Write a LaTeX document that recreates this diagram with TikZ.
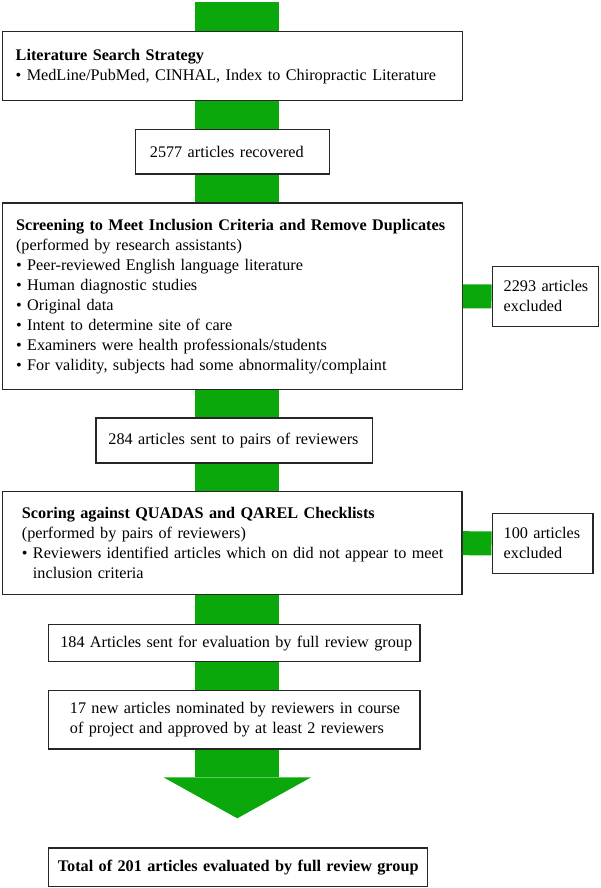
\documentclass[tikz,border=0pt]{standalone}
\usepackage{fontspec}
\setmainfont{Liberation Serif}
\definecolor{flowgreen}{RGB}{10,168,10}
\newcommand{\bul}{\textbullet\ }
\newcommand{\bulgap}{\phantom{\textbullet\ }}

\begin{document}
\begin{tikzpicture}[x=1pt,y=-1pt,
  box/.style={draw=black!85, line width=1.4pt, fill=white, anchor=north west, align=left,
    inner xsep=12pt, inner ysep=0pt, font=\fontsize{16.2}{20}\selectfont},
  sidelink/.style={flowgreen, line width=24pt}]
  \useasboundingbox (0,0) rectangle (600,888);
  \coordinate (top) at (237.3,2);
  \coordinate (neck) at (237.3,777.3);
  \coordinate (tip) at (237.3,818.3);
  \draw [flowgreen, line width=83.8pt] (top) -- (neck);
  \fill [flowgreen] (neck) ++(-73.8,0) -- ++(147.6,0) -- (tip) -- cycle;
  \node [box, inner xsep=13pt, text width=433.5pt, minimum height=69pt] (search) at (2,31)
    {\textbf{Literature Search Strategy}\\
     \mbox{\bul MedLine/PubMed, CINHAL, Index to Chiropractic Literature}};
  \node [box, inner xsep=14.6pt, text width=165pt, minimum height=44.6pt] (recovered) at (134.6,128.7)
    {\mbox{2577 articles recovered}};
  \node [box, inner xsep=13.4pt, text width=432.7pt, minimum height=186.7pt] (screen) at (2,202.3)
    {\mbox{\textbf{Screening to Meet Inclusion Criteria and Remove Duplicates}}\\
     (performed by research assistants)\\
     \bul Peer-reviewed English language literature\\
     \bul Human diagnostic studies\\
     \bul Original data\\
     \bul Intent to determine site of care\\
     \bul Examiners were health professionals/students\\
     \mbox{\bul For validity, subjects had some abnormality/complaint}};
  \node [box, inner xsep=11.5pt, text width=83.5pt, minimum height=60pt] (excl1) at (491.5,265.7)
    {\mbox{2293 articles}\\excluded};
  \node [box, inner xsep=12.3pt, text width=252pt, minimum height=45pt] (pairs) at (95.4,417.3)
    {\mbox{284 articles sent to pairs of reviewers}};
  \node [box, inner xsep=19.2pt, text width=421pt, minimum height=103pt] (scoring) at (2,491)
    {\textbf{Scoring against QUADAS and QAREL Checklists}\\
     (performed by pairs of reviewers)\\
     \mbox{\bul Reviewers identified articles which on did not appear to meet}\\
     \bulgap inclusion criteria};
  \node [box, inner xsep=11.5pt, text width=77.8pt, minimum height=60pt] (excl2) at (491.5,512.7)
    {\mbox{100 articles}\\excluded};
  \node [box, inner xsep=11.6pt, text width=348pt, minimum height=36.7pt] (full) at (48,624)
    {\mbox{184 Articles sent for evaluation by full review group}};
  \node [box, inner xsep=21.2pt, text width=328.8pt, minimum height=58.3pt] (nominated) at (48,690)
    {\mbox{17 new articles nominated by reviewers in course}\\
     \mbox{of project and approved by at least 2 reviewers}};
  \node [box, align=center, inner xsep=9pt, text width=361pt, minimum height=38.4pt] (total) at (48,847.3)
    {\mbox{\textbf{Total of 201 articles evaluated by full review group}}};
  \draw [sidelink] (screen.east) -- (excl1.west);
  \draw [sidelink] (scoring.east) -- (excl2.west);
\end{tikzpicture}
\end{document}
